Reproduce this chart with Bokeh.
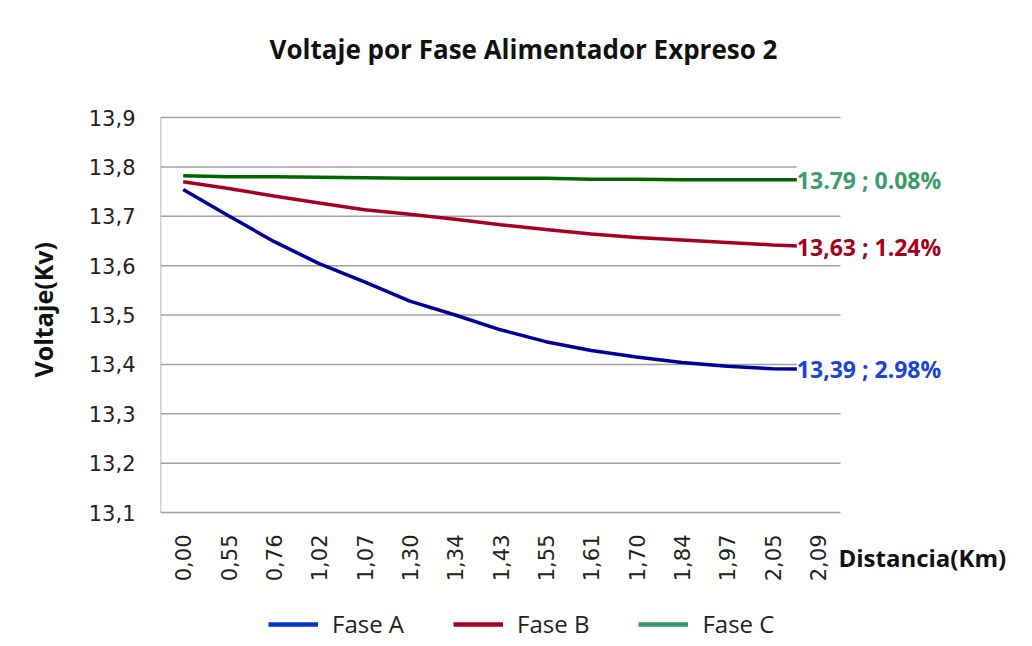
import math
from bokeh.plotting import figure
from bokeh.models import (Range1d, FixedTicker, Label, Legend, LegendItem,
                          ColumnDataSource, Title)
from bokeh.core.properties import value
from bokeh.embed import file_html
from bokeh.resources import INLINE

# ---- data ----
dist_labels = ["0,00", "0,55", "0,76", "1,02", "1,07", "1,30", "1,34", "1,43",
               "1,55", "1,61", "1,70", "1,84", "1,97", "2,05", "2,09"]
fase_a = [13.754, 13.701, 13.649, 13.604, 13.567, 13.528, 13.500, 13.470,
          13.446, 13.428, 13.415, 13.404, 13.396, 13.391, 13.390]
fase_b = [13.770, 13.756, 13.741, 13.727, 13.713, 13.704, 13.694, 13.683,
          13.673, 13.664, 13.657, 13.652, 13.647, 13.642, 13.638]
fase_c = [13.782, 13.780, 13.780, 13.779, 13.778, 13.777, 13.777, 13.777,
          13.777, 13.775, 13.775, 13.774, 13.774, 13.774, 13.774]
series_names = ["Fase A", "Fase B", "Fase C"]
end_labels = ["13,39 ; 2.98%", "13,63 ; 1.24%", "13.79 ; 0.08%"]
y_ticks = [13.1, 13.2, 13.3, 13.4, 13.5, 13.6, 13.7, 13.8, 13.9]
y_tick_labels = ["13,1", "13,2", "13,3", "13,4", "13,5", "13,6", "13,7", "13,8", "13,9"]
title_text = "Voltaje por Fase Alimentador Expreso 2"
x_title = "Distancia(Km)"
y_title = "Voltaje(Kv)"

line_colors = ["#000099", "#A50021", "#006600"]
legend_colors = ["#0033CC", "#A50021", "#339966"]
label_colors = ["#1A44D4", "#A50021", "#3A9B6C"]
grid_color = "#A0A0A0"

# ---- layout constants (pixels) ----
PLOT_W = 680          # width of the category area
PLOT_H = 395          # height of the value area
EXTRA_R = 170         # room right of the category area for end labels
EXTRA_T = 96          # room above the value area for the title
EXTRA_B = 134         # room below the value area for tick labels and legend

n = len(dist_labels)
idx = list(range(n))
cat_px = PLOT_W / n
unit_px = PLOT_H / (y_ticks[-1] - y_ticks[0])
FRAME_H = PLOT_H + EXTRA_T + EXTRA_B

p = figure(frame_width=PLOT_W + EXTRA_R, frame_height=FRAME_H,
           output_backend="svg", toolbar_location=None, x_axis_location=None,
           x_range=Range1d(-0.5, n - 0.5 + EXTRA_R / cat_px),
           y_range=Range1d(y_ticks[0] - EXTRA_B / unit_px, y_ticks[-1] + EXTRA_T / unit_px),
           min_border_left=160, min_border_right=22,
           min_border_top=21, min_border_bottom=0)

p.outline_line_color = None
p.background_fill_color = "white"
p.border_fill_color = "white"

# y axis (real axis, ticks only at the tick values)
p.yaxis.ticker = FixedTicker(ticks=y_ticks)
p.yaxis.major_label_overrides = {v: s for v, s in zip(y_ticks, y_tick_labels)}
p.yaxis.major_label_text_font = "DejaVu Sans"
p.yaxis.major_label_text_font_size = "21px"
p.yaxis.major_label_text_color = "#222222"
p.yaxis.major_tick_line_color = None
p.yaxis.minor_tick_line_color = None
p.yaxis.axis_line_color = None
p.yaxis.major_label_standoff = 19

# y axis name, centred on the value area (not on the whole frame)
p.add_layout(Title(text=y_title, align="left", offset=EXTRA_B + 135,
                   vertical_align="top", standoff=48,
                   text_font="Open Sans", text_font_size="25px",
                   text_font_style="bold", text_color="#111111"), "left")

p.xgrid.grid_line_color = None
p.ygrid.grid_line_color = None

# gridlines of the value area and its left edge
p.segment(x0=-0.5, x1=n - 0.5, y0=y_ticks, y1=y_ticks,
          line_color=grid_color, line_width=1.5)
p.segment(x0=[-0.5], x1=[-0.5], y0=[y_ticks[0]], y1=[y_ticks[-1]],
          line_color=grid_color, line_width=1.5)

# rotated category labels
p.text(x=idx, y=[y_ticks[0]] * n, text=dist_labels, angle=math.pi / 2,
       y_offset=22, text_align="right", text_baseline="middle",
       text_font=value("DejaVu Sans"), text_font_size="21px", text_color="#222222")

# lines
all_series = [fase_a, fase_b, fase_c]
for vals, col in zip(all_series, line_colors):
    src = ColumnDataSource(dict(x=idx, y=vals))
    p.line("x", "y", source=src, line_color=col, line_width=3.5)

# end labels (white background hides the final stub of each line)
for vals, txt, col in zip(all_series, end_labels, label_colors):
    p.add_layout(Label(x=idx[-1], y=vals[-1], text=txt, x_offset=-21,
                       text_align="left", text_baseline="middle",
                       text_font="Open Sans", text_font_size="23px",
                       text_font_style="bold", text_color=col,
                       background_fill_color="white", background_fill_alpha=1.0))

# chart title and x axis name (screen units from the frame's bottom-left)
p.add_layout(Label(x=363, y=FRAME_H - 27, x_units="screen", y_units="screen",
                   text=title_text, text_align="center", text_baseline="middle",
                   text_font="Open Sans", text_font_size="26px", text_font_style="bold",
                   text_color="#111111"))
p.add_layout(Label(x=PLOT_W - 2, y=EXTRA_B - 45, x_units="screen", y_units="screen",
                   text=x_title, text_align="left", text_baseline="middle",
                   text_font="Open Sans", text_font_size="24px", text_font_style="bold",
                   text_color="#111111"))

# legend with its own swatch colours (swatch-only renderers, nothing drawn in the plot)
items = []
for name, col in zip(series_names, legend_colors):
    r = p.line([float("nan")], [float("nan")], line_color=col, line_width=4.5)
    items.append(LegendItem(label=name, renderers=[r]))
legend = Legend(items=items, orientation="horizontal", location=(108, 6),
                label_text_font="Open Sans", label_text_font_size="24px",
                label_text_color="#222222", glyph_width=50, glyph_height=20,
                spacing=49, label_standoff=14, border_line_color=None,
                background_fill_alpha=0, margin=0, padding=4)
p.add_layout(legend, "center")

open("out.html", "w").write(file_html(p, INLINE))
